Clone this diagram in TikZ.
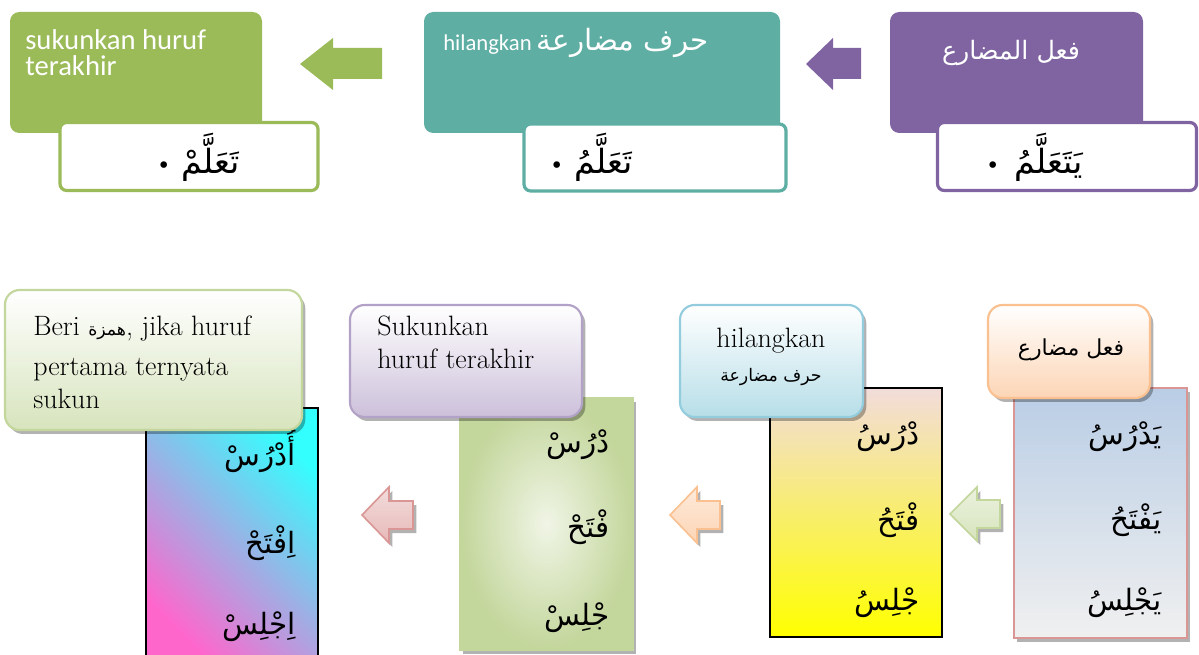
\documentclass[tikz,border=0pt]{standalone}
\usepackage{fontspec}
\usetikzlibrary{shadows}
\TeXXeTstate=1
\newfontfamily\carlito{Carlito}
\newfontfamily\arabicfont[Script=Arabic]{DejaVu Sans}
\newcommand{\pxl}{*0.75pt}
\newcommand{\AR}[1]{{\arabicfont\beginR #1\endR}}
\newcommand{\smallbullet}{{\fontsize{17}{17}\selectfont •}}
\definecolor{tgreen}{HTML}{9BBB59}
\definecolor{tteal}{HTML}{5EAEA3}
\definecolor{tpurple}{HTML}{8064A2}
\definecolor{lgreen}{HTML}{D7E4BD}
\definecolor{lgreenB}{HTML}{C3D69B}
\definecolor{lpurple}{HTML}{CCC0DA}
\definecolor{lpurpleB}{HTML}{B3A2C7}
\definecolor{lblue}{HTML}{B7DEE8}
\definecolor{lblueB}{HTML}{93CDDD}
\definecolor{lorange}{HTML}{FCD5B5}
\definecolor{lorangeB}{HTML}{FAC090}
\definecolor{rblue}{HTML}{B9CDE5}
\definecolor{rgrey}{HTML}{F0F0F0}
\definecolor{rpinkB}{HTML}{D99694}
\definecolor{rrose}{HTML}{F2DCDB}
\definecolor{ryellow}{HTML}{FFFF00}
\definecolor{rmag}{HTML}{FF66CC}
\definecolor{rcyan}{HTML}{33FFFF}
\definecolor{apink}{HTML}{E6B9B8}
\definecolor{rlight}{HTML}{F0F5E6}
\tikzset{
  shd/.style={drop shadow={shadow xshift=2.5pt, shadow yshift=-3pt, fill=black, opacity=0.3}},
  topbox/.style={rectangle, rounded corners=7pt, inner sep=0pt},
  itembox/.style={rectangle, rounded corners=5pt, fill=white, line width=2.4pt, inner sep=0pt},
  toptext/.style={inner sep=0pt, text=white, font=\carlito\fontsize{21.5}{19.5}\selectfont, align=left},
  itemtext/.style={inner sep=0pt, anchor=east, font=\arabicfont\fontsize{25}{26}\selectfont},
  labelbox/.style={rectangle, rounded corners=11pt, line width=1.6pt, inner sep=0pt, shd},
  labeltext/.style={inner sep=0pt, font=\fontsize{21}{24.75}\selectfont, align=left},
  wordbox/.style={rectangle, inner sep=0pt},
  word/.style={inner sep=0pt, anchor=east, font=\arabicfont\fontsize{22}{24}\selectfont},
  blockarrow/.style={line width=1.2pt, line join=miter},
}
\begin{document}
\begin{tikzpicture}[x=0.75pt, y=-0.75pt]
\useasboundingbox (0,0) rectangle (1199,655);

% ---------------- top row ----------------
\node[topbox, fill=tgreen, minimum width=252\pxl, minimum height=121\pxl] (g1) at (136,72.5) {};
\node[toptext, anchor=north west] (g1t) at (25,29) {sukunkan huruf\\terakhir};
\node[itembox, draw=tgreen, minimum width=258\pxl, minimum height=68\pxl] (g2) at (189,156.5) {};
\node[itemtext] (g2t) at (240,157) {\smallbullet\hspace{8pt}\AR{تَعَلَّمْ}};

\node[topbox, fill=tteal, minimum width=356\pxl, minimum height=121\pxl] (t1) at (602,72.5) {};
\node[inner sep=0pt, anchor=base west, text=white, font=\carlito\fontsize{17}{18}\selectfont] (t1t) at (443,51)
  {hilangkan {\arabicfont\fontsize{22}{22}\selectfont\beginR حرف مضارعة\endR}};
\node[itembox, draw=tteal, minimum width=262\pxl, minimum height=67\pxl] (t2) at (655,157.5) {};
\node[itemtext] (t2t) at (633,157) {\smallbullet\hspace{8pt}\AR{تَعَلَّمُ}};

\node[topbox, fill=tpurple, minimum width=253\pxl, minimum height=121\pxl] (p1) at (1016.5,72.5) {};
\node[inner sep=0pt, text=white, font=\arabicfont\fontsize{19}{20}\selectfont] (p1t) at (1011,53) {\beginR فعل المضارع\endR};
\node[itembox, draw=tpurple, minimum width=259\pxl, minimum height=68\pxl] (p2) at (1067,156.5) {};
\node[itemtext] (p2t) at (1083,157) {\smallbullet\hspace{11pt}\AR{يَتَعَلَّمُ}};

\fill[tgreen] (300,64) -- (333,38) -- (333,48) -- (382,48) -- (382,79) -- (333,79) -- (333,90) -- cycle;
\fill[tpurple] (806,64) -- (833,38) -- (833,48) -- (861,48) -- (861,79) -- (833,79) -- (833,90) -- cycle;

% ---------------- bottom row ----------------
% word panels
\node[wordbox, shd, top color=rblue, bottom color=rgrey, draw=rpinkB, line width=2.2pt,
      minimum width=173\pxl, minimum height=250\pxl] (r1) at (1100.5,513) {};
\node[word] (r1a) at (1162,437) {\beginR يَدْرُسُ\endR};
\node[word] (r1b) at (1162,520) {\beginR يَفْتَحُ\endR};
\node[word] (r1c) at (1162,603) {\beginR يَجْلِسُ\endR};

\node[wordbox, top color=rrose, bottom color=ryellow, draw=black, line width=1.4pt,
      minimum width=172\pxl, minimum height=249\pxl] (r2) at (856,512.5) {};
\node[word] (r2a) at (920,437) {\beginR دْرُسُ\endR};
\node[word] (r2b) at (920,520) {\beginR فْتَحُ\endR};
\node[word] (r2c) at (920,603) {\beginR جْلِسُ\endR};

\node[wordbox, shd, inner color=rlight, outer color=lgreenB, draw=lgreenB, line width=1.4pt,
      minimum width=173\pxl, minimum height=252\pxl] (r3) at (546.5,524) {};
\node[word] (r3a) at (610,445) {\beginR دْرُسْ\endR};
\node[word] (r3b) at (610,527) {\beginR فْتَحْ\endR};
\node[word] (r3c) at (610,618) {\beginR جْلِسْ\endR};

\node[wordbox, top color=rcyan, bottom color=rmag, shading angle=-45, draw=black, line width=1.4pt,
      minimum width=172\pxl, minimum height=254\pxl] (r4) at (232,535) {};
\node[word] (r4a) at (296,450) {\beginR أُدْرُسْ\endR};
\node[word] (r4b) at (296,543) {\beginR اِفْتَحْ\endR};
\node[word] (r4c) at (296,627) {\beginR اِجْلِسْ\endR};

% label boxes
\node[labelbox, top color=white, bottom color=lorange, draw=lorangeB,
      minimum width=162\pxl, minimum height=93\pxl] (l1) at (1069,351.5) {};
\node[inner sep=0pt, font=\arabicfont\fontsize{16.5}{18}\selectfont] (l1t) at (1071,350) {\beginR فعل مضارع\endR};

\node[labelbox, top color=white, bottom color=lblue, draw=lblueB,
      minimum width=183\pxl, minimum height=112\pxl] (l2) at (771.5,361) {};
\node[inner sep=0pt, anchor=base, font=\fontsize{21}{24}\selectfont] (l2t) at (771,348) {hilangkan};
\node[inner sep=0pt, font=\arabicfont\fontsize{13}{16}\selectfont] (l2u) at (771,377) {\beginR حرف مضارعة\endR};

\node[labelbox, top color=white, bottom color=lpurple, draw=lpurpleB,
      minimum width=232\pxl, minimum height=112\pxl] (l3) at (466,361) {};
\node[labeltext, anchor=north west] (l3t) at (377,316) {Sukunkan\\huruf terakhir};

\node[labelbox, top color=white, bottom color=lgreen, draw=lgreenB,
      minimum width=297\pxl, minimum height=140\pxl] (l4) at (153.5,360) {};
\node[labeltext, anchor=north west] (l4t) at (33,316)
  {Beri {\arabicfont\fontsize{13}{12}\selectfont\beginR همزة\endR}, jika huruf\\[5.25pt]pertama ternyata\\sukun};

% block arrows
\path[blockarrow, shd, top color=lgreen!50, bottom color=lgreen, draw=lgreenB]
  (950,514) -- (977,487) -- (977,500) -- (1000,500) -- (1000,528) -- (977,528) -- (977,541) -- cycle;
\path[blockarrow, shd, top color=lorange!50, bottom color=lorange, draw=lorangeB]
  (670,515) -- (697,487) -- (697,501) -- (720,501) -- (720,529) -- (697,529) -- (697,543) -- cycle;
\path[blockarrow, shd, top color=apink!50, bottom color=apink, draw=rpinkB]
  (362,515) -- (389,487) -- (389,501) -- (413,501) -- (413,529) -- (389,529) -- (389,543) -- cycle;
\end{tikzpicture}
\end{document}
